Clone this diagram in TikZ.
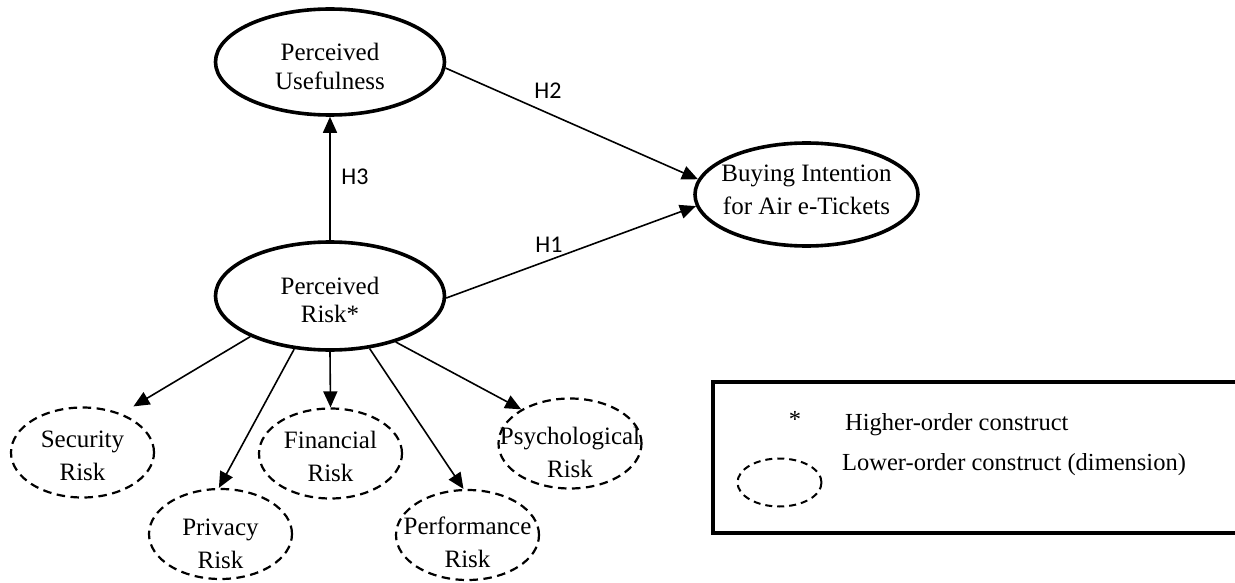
\documentclass[tikz,border=0pt]{standalone}
\usepackage{fontspec}
\setmainfont{Liberation Serif}
\newfontfamily\hfont{Carlito}
\usetikzlibrary{shapes.geometric,arrows.meta}
\begin{document}
\begin{tikzpicture}[x=1pt,y=-1pt,
  bigc/.style={ellipse, draw, line width=3.6pt, inner sep=0pt},
  smallc/.style={ellipse, draw, line width=2.2pt, dash pattern=on 8.5pt off 5.5pt, inner sep=0pt, minimum width=143pt, minimum height=90pt},
  txt/.style={align=center, inner sep=0pt, font=\fontsize{25}{33}\selectfont},
  txtb/.style={align=center, inner sep=0pt, font=\fontsize{25}{28.5}\selectfont},
  arr/.style={line width=1.6pt, -{Triangle[length=16pt,width=14pt]}},
  hyp/.style={inner sep=0pt, font=\hfont\fontsize{24}{24}\selectfont},
  legtxt/.style={inner sep=0pt, font=\fontsize{24.5}{28}\selectfont}]
\useasboundingbox (0,0) rectangle (1235,583);

% main constructs
\node[bigc, minimum width=229pt, minimum height=106pt,
      label={[txtb,yshift=-4.5pt]center:Perceived\\Usefulness}] (pu) at (330,62) {};
\node[bigc, minimum width=229pt, minimum height=108pt,
      label={[txtb,yshift=-4pt]center:Perceived\\Risk*}] (pr) at (330,296) {};
\node[bigc, minimum width=223pt, minimum height=103pt,
      label={[txt,yshift=5pt]center:Buying Intention\\for Air e-Tickets}] (bi) at (806.5,194.5) {};

% dimensions
\node[smallc, label={[txt,yshift=-3pt]center:Security\\Risk}] (sec) at (82.5,452.5) {};
\node[smallc, label={[txt,yshift=-10pt]center:Privacy\\Risk}] (pri) at (220.5,534) {};
\node[smallc, label={[txt,yshift=-3pt]center:Financial\\Risk}] (fin) at (330.5,453.5) {};
\node[smallc, label={[txt,yshift=-7pt]center:Performance\\Risk}] (per) at (467.5,535) {};
\node[smallc, label={[txt,yshift=-9pt]center:Psychological\\Risk}] (psy) at (570,443.5) {};

% structural paths
\draw[arr] (pr.north) -- (pu.south);
\draw[arr] (pu.-3) -- (bi.172.5);
\draw[arr] (pr.-1) -- (bi.186.4);

% dimension paths
\draw[arr, shorten >=14pt] (pr.207.7) -- (sec.45);
\draw[arr] (pr.236.5) -- (pri.92.9);
\draw[arr] (pr.south) -- (fin.north);
\draw[arr] (pr.-53.5) -- (per.95);
\draw[arr] (pr.-35) -- (psy.145.4);

% hypothesis labels
\node[hyp] (h3) at (355,177) {H3};
\node[hyp] (h2) at (548,91) {H2};
\node[hyp] (h1) at (549,245) {H1};

% legend (box runs off the right edge)
\begin{scope}
\clip (0,0) rectangle (1235,583);
\draw[line width=3.8pt, line join=miter] (1236,382) -- (713,382) -- (713,533) -- (1236,533);
\end{scope}
\node[legtxt, anchor=base] (star) at (795,427) {*};
\node[legtxt, anchor=base west] (hoc) at (845,430) {Higher-order construct};
\node[ellipse, draw, line width=2pt, dash pattern=on 7pt off 5pt, inner sep=0pt, minimum width=84pt, minimum height=48pt] (legell) at (779.5,482.5) {};
\node[legtxt, anchor=base west] (loc) at (842,470) {Lower-order construct (dimension)};
\end{tikzpicture}
\end{document}
